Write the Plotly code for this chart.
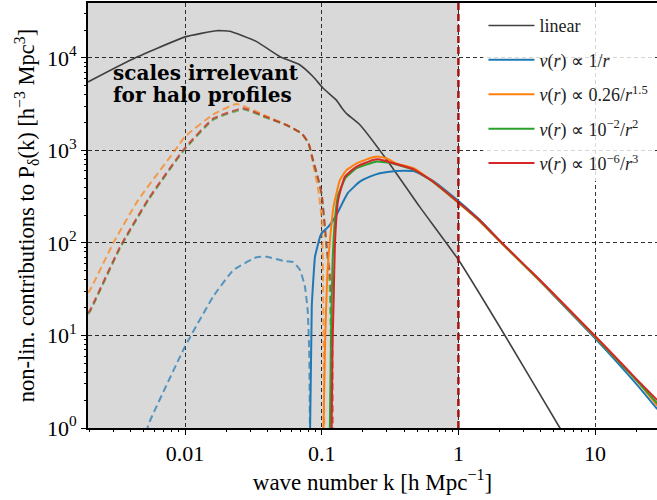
import plotly.graph_objects as go

# ---------------- data ----------------
k_lin = [0.00195, 0.004, 0.01, 0.017, 0.0213, 0.0334, 0.0496, 0.0694, 0.0863, 0.1025,
         0.128, 0.14, 0.152, 0.19, 0.3, 0.52, 1.0, 2.19, 5.53, 10.0, 28.5]
p_lin = [5500, 9500, 16900, 19700, 19400, 15000, 10300, 8400, 6300, 4700,
         3500, 2900, 2500, 1900, 790, 247, 65.8, 10, 1.0, 0.23, 0.017]

# solid (positive) contributions
k_blue = [0.0821, 0.0846, 0.0868, 0.0893, 0.0945, 0.0973, 0.1, 0.112, 0.128, 0.155,
          0.19, 0.225, 0.266, 0.35, 0.47, 0.65, 0.966, 1.43, 2.07, 4.0, 9.8, 20.0, 28.5]
p_blue = [0.8, 20.6, 40, 71, 100, 117, 128, 150, 200, 345,
          460, 521, 567, 601, 598, 470, 297, 178, 101, 38, 9.6, 3.0, 1.6]

k_orange = [0.1027, 0.106, 0.11, 0.115, 0.122, 0.136, 0.152, 0.18, 0.213, 0.24, 0.26,
            0.3, 0.35, 0.47, 0.65, 0.966, 1.43, 2.07, 4.0, 9.8, 20.0, 28.5]
p_orange = [0.8, 9, 47, 108, 247, 480, 615, 725, 800, 850, 857,
            820, 725, 643, 460, 283, 172, 99, 38, 9.9, 3.3, 1.75]

k_green = [0.1145, 0.117, 0.12, 0.125, 0.132, 0.15, 0.18, 0.25, 0.315, 0.47, 0.65,
           0.966, 1.43, 2.07, 4.0, 9.8, 20.0, 28.5]
p_green = [0.8, 10, 60, 180, 330, 510, 643, 757, 735, 620, 460,
           286, 174, 100, 38.5, 10, 3.3, 1.85]

k_red = [0.118, 0.12, 0.122, 0.125, 0.132, 0.148, 0.18, 0.238, 0.26, 0.315, 0.47, 0.65,
         0.966, 1.43, 2.07, 4.0, 9.8, 20.0, 28.5]
p_red = [0.8, 8, 20.6, 100, 292, 521, 668, 790, 803, 746, 625, 462,
         288, 176, 101, 39, 10.2, 3.4, 2.0]

# dashed (absolute value of negative) contributions
k_blue_n = [0.0052, 0.00548, 0.01, 0.0161, 0.0226, 0.0334, 0.0396, 0.0524, 0.062,
            0.0694, 0.0753, 0.0789, 0.081, 0.0821]
p_blue_n = [0.9, 1.15, 7.6, 26.4, 51, 70, 71, 64, 62, 51, 34, 19, 7, 0.8]

k_orange_n = [0.00195, 0.00202, 0.00299, 0.00455, 0.00845, 0.01, 0.0161, 0.0239, 0.0396,
              0.055, 0.0714, 0.08, 0.0868, 0.0945, 0.1, 0.102, 0.1035, 0.1045]
p_orange_n = [29, 31, 100, 292, 1000, 1410, 2450, 3180, 2350,
              1900, 1530, 1200, 700, 375, 180, 60, 5, 0.8]

k_green_n = [0.00195, 0.00202, 0.00335, 0.0054, 0.0098, 0.0161, 0.0267, 0.0396, 0.055,
             0.0714, 0.08, 0.0868, 0.0945, 0.1, 0.109, 0.114, 0.1165, 0.1175]
p_green_n = [17, 18.2, 88, 292, 1000, 2150, 2790, 2250, 1880,
             1520, 1200, 760, 480, 330, 84, 40, 10, 0.8]

k_red_n = [0.00195, 0.00202, 0.00335, 0.0054, 0.0098, 0.0161, 0.0267, 0.0396, 0.055,
           0.0714, 0.08, 0.0868, 0.0945, 0.1, 0.109, 0.116, 0.1195, 0.1205]
p_red_n = [17.5, 18.8, 91, 300, 1030, 2220, 2860, 2290, 1890,
           1530, 1210, 770, 490, 340, 88, 40, 10, 0.8]

legend_names = ["linear",
                "<i>v</i>(<i>r</i>) ∝ 1/<i>r</i>",
                "<i>v</i>(<i>r</i>) ∝ 0.26/<i>r</i><sup>1.5</sup>",
                "<i>v</i>(<i>r</i>) ∝ 10<sup>−2</sup>/<i>r</i><sup>2</sup>",
                "<i>v</i>(<i>r</i>) ∝ 10<sup>−6</sup>/<i>r</i><sup>3</sup>"]
x_tickvals = [0.01, 0.1, 1, 10]
x_ticktext = ["0.01", "0.1", "1", "10"]
y_tickvals = [1, 10, 100, 1000, 10000]
y_ticktext = ["10<sup>0</sup>", "10<sup>1</sup>", "10<sup>2</sup>", "10<sup>3</sup>", "10<sup>4</sup>"]
x_minor = [m * 10.0 ** e for e in range(-3, 2) for m in range(2, 10)]
y_minor = [m * 10.0 ** e for e in range(0, 5) for m in range(2, 10)]
note_lines = ["scales irrelevant", "for halo profiles"]

# ---------------- styles ----------------
FONT = "Liberation Serif"
C_BLUE, C_ORANGE, C_GREEN, C_RED = "#1f77b4", "#ff7f0e", "#2ca02c", "#d62728"
XR = [-2.7096, 1.4528]
YR = [0, 4.594]
SMOOTH = 0.4

fig = go.Figure()

# dashed negatives
for kk, pp, c in [(k_blue_n, p_blue_n, C_BLUE), (k_orange_n, p_orange_n, C_ORANGE),
                  (k_green_n, p_green_n, C_GREEN), (k_red_n, p_red_n, C_RED)]:
    fig.add_trace(go.Scatter(x=kk, y=pp, mode="lines", showlegend=False, opacity=0.7,
                             line=dict(color=c, width=2, dash="7px,4px", shape="spline", smoothing=SMOOTH)))

fig.add_trace(go.Scatter(x=k_lin, y=p_lin, mode="lines", name=legend_names[0], legendgroup="g0",
                         line=dict(color="#404040", width=1.6, shape="spline", smoothing=SMOOTH)))
for i, (kk, pp, c) in enumerate([(k_blue, p_blue, C_BLUE), (k_orange, p_orange, C_ORANGE),
                                 (k_green, p_green, C_GREEN), (k_red, p_red, C_RED)]):
    fig.add_trace(go.Scatter(x=kk, y=pp, mode="lines", name=legend_names[i + 1], legendgroup="g%d" % (i + 1),
                             line=dict(color=c, width=2, shape="spline", smoothing=SMOOTH)))

# invisible trace carrying the minor-tick overlay axes
fig.add_trace(go.Scatter(x=[0.01], y=[10], xaxis="x2", yaxis="y2", mode="markers",
                         marker=dict(opacity=0), showlegend=False, hoverinfo="skip"))

# shaded region and k=1 marker
fig.add_shape(type="rect", xref="x", x0=0.0015, x1=1, yref="paper", y0=0, y1=1,
              fillcolor="#d9d9d9", line=dict(width=0), layer="below")
fig.add_shape(type="line", xref="x", x0=1, x1=1, yref="paper", y0=0, y1=1,
              line=dict(color="#a31515", width=2.5, dash="7px,4px"))

for txt, yy in zip(note_lines, [0.836, 0.783]):
    fig.add_annotation(text="<b>%s</b>" % txt, xref="paper", yref="paper",
                       x=0.043, y=yy, xanchor="left", yanchor="middle", align="left",
                       showarrow=False, borderpad=0,
                       font=dict(family="DejaVu Serif", size=20, color="black"))

axis_common = dict(type="log", showline=True, linecolor="black", linewidth=2,
                   ticks="outside", ticklen=5, tickwidth=1.2, tickcolor="black",
                   showgrid=True, gridcolor="rgba(0,0,0,0.8)", gridwidth=1, griddash="4px,3px",
                   zeroline=False, tickfont=dict(family=FONT, size=22, color="black"))

fig.update_layout(
    xaxis=dict(**axis_common, range=XR, mirror=True, tickvals=x_tickvals, ticktext=x_ticktext,
               title=dict(text="wave number k [h Mpc<sup>−1</sup>]", standoff=8,
                          font=dict(family=FONT, size=23, color="black"))),
    yaxis=dict(**axis_common, range=YR, tickvals=y_tickvals, ticktext=y_ticktext,
               title=dict(text="non-lin. contributions to P<sub>δ</sub>(k) [h<sup>−3</sup> Mpc<sup>3</sup>]",
                          standoff=6, font=dict(family=FONT, size=22.5, color="black"))),
    xaxis2=dict(type="log", range=XR, overlaying="x", anchor="y", side="bottom",
                tickvals=x_minor, ticks="outside", ticklen=3, tickwidth=1, tickcolor="black",
                showticklabels=False, showgrid=False, showline=False, zeroline=False),
    yaxis2=dict(type="log", range=YR, overlaying="y", anchor="x", side="left",
                tickvals=y_minor, ticks="outside", ticklen=3, tickwidth=1, tickcolor="black",
                showticklabels=False, showgrid=False, showline=False, zeroline=False),
    width=657, height=500, margin=dict(l=88, r=0, t=3, b=72, autoexpand=False),
    plot_bgcolor="white", paper_bgcolor="white",
    font=dict(family=FONT, color="black"),
    legend=dict(x=0.695, y=0.99, xanchor="left", yanchor="top",
                bgcolor="rgba(255,255,255,0.8)", borderwidth=0,
                font=dict(family=FONT, size=18, color="#222"),
                itemwidth=46, tracegroupgap=8),
)

fig.write_html("out.html")
